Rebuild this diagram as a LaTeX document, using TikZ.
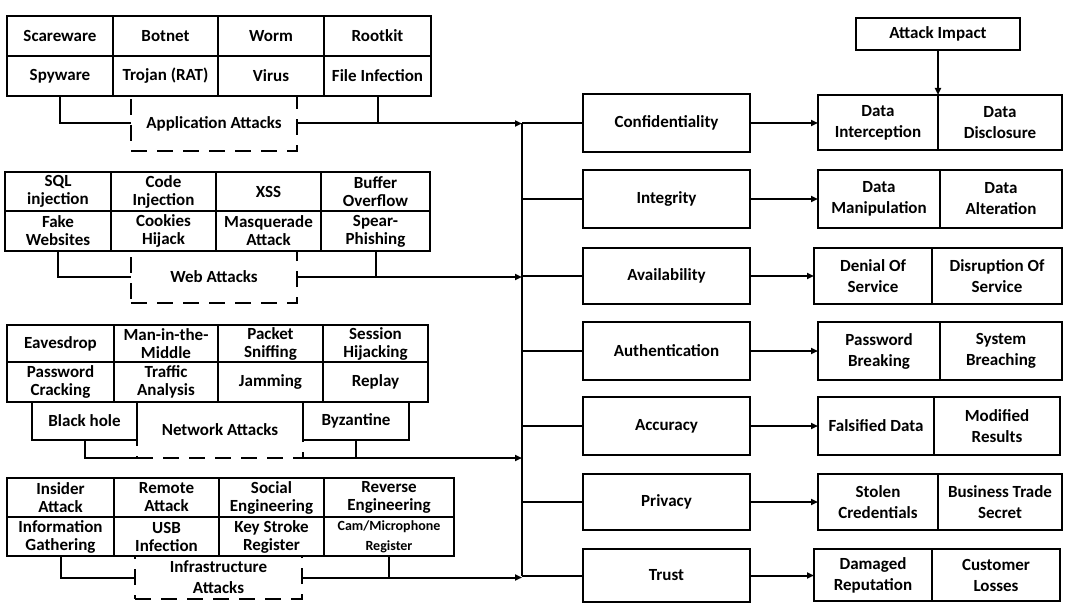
\documentclass[tikz,border=0pt]{standalone}
\usepackage{fontspec}
\setmainfont{Carlito}
\usetikzlibrary{arrows.meta}
\newcommand\boxat[7]{\node[#1, minimum width={(#5)-(#3)}, minimum height={(#6)-(#4)}] (#2) at ({((#3)+(#5))/2},{((#4)+(#6))/2}) {#7};}
\begin{document}
\begin{tikzpicture}[x=1pt,y=-1pt,
  cell/.style={draw, line width=2.2pt, fill=white, align=center, inner sep=0pt, outer sep=0pt, font=\bfseries\fontsize{17}{18}\selectfont},
  small/.style={cell, font=\bfseries\fontsize{14}{20}\selectfont},
  rbox/.style={cell, font=\bfseries\fontsize{17}{21}\selectfont},
  dbox/.style={draw, line width=2.2pt, dash pattern=on 16pt off 10pt, align=center, inner sep=0pt, outer sep=0pt, font=\bfseries\fontsize{17}{21}\selectfont},
  conn/.style={line width=2pt},
  arr/.style={conn, -{Triangle[length=7pt,width=6pt]}}]
\useasboundingbox (0,0) rectangle (1076,604);
\coordinate (busx) at (522,0);

% ---------- Application attacks ----------
\boxat{dbox}{appdash}{131}{96}{297}{151}{Application Attacks}
\boxat{cell}{a1}{7}{16}{113}{56}{Scareware}
\boxat{cell}{a2}{113}{16}{218}{56}{Botnet}
\boxat{cell}{a3}{218}{16}{324}{56}{Worm}
\boxat{cell}{a4}{324}{16}{431}{56}{Rootkit}
\boxat{cell}{a5}{7}{56}{113}{96}{Spyware}
\boxat{cell}{a6}{113}{56}{218}{96}{Trojan (RAT)}
\boxat{cell}{a7}{218}{56}{324}{96}{Virus}
\boxat{cell}{a8}{324}{56}{431}{96}{File Infection}
\draw[conn] (a5.south) |- (appdash.west);
\draw[conn] (a8.south) -- (a8.south |- appdash.east);
\draw[arr] (appdash.east) -- (appdash.east -| busx);

% ---------- Web attacks ----------
\boxat{dbox}{webdash}{131}{251}{297}{303}{Web Attacks}
\boxat{cell}{w1}{5}{172}{111}{211}{SQL\\injection}
\boxat{cell}{w2}{111}{172}{216}{211}{Code\\Injection}
\boxat{cell}{w3}{216}{172}{321}{211}{XSS}
\boxat{cell}{w4}{321}{172}{430}{211}{Buffer\\Overflow}
\boxat{cell}{w5}{5}{211}{111}{251}{Fake\\Websites}
\boxat{cell}{w6}{111}{211}{216}{251}{Cookies\\Hijack}
\boxat{cell}{w7}{216}{211}{321}{251}{Masquerade\\Attack}
\boxat{cell}{w8}{321}{211}{430}{251}{Spear-\\Phishing}
\draw[conn] (w5.south) |- (webdash.west);
\draw[conn] (w8.south) -- (w8.south |- webdash.east);
\draw[arr] (webdash.east) -- (webdash.east -| busx);

% ---------- Network attacks ----------
\boxat{dbox}{netdash}{137}{402}{303}{458}{Network Attacks}
\boxat{cell}{bh}{32}{402}{137}{440}{Black hole}
\boxat{cell}{byz}{303}{402}{409}{440}{Byzantine}
\boxat{cell}{n1}{7}{325}{114}{362}{Eavesdrop}
\boxat{cell}{n2}{114}{325}{218}{362}{Man-in-the-\\Middle}
\boxat{cell}{n3}{218}{325}{323}{362}{Packet\\Sniffing}
\boxat{cell}{n4}{323}{325}{428}{362}{Session\\Hijacking}
\boxat{cell}{n5}{7}{362}{114}{402}{Password\\Cracking}
\boxat{cell}{n6}{114}{362}{218}{402}{Traffic\\Analysis}
\boxat{cell}{n7}{218}{362}{323}{402}{Jamming}
\boxat{cell}{n8}{323}{362}{428}{402}{Replay}
\draw[conn] (bh.south) |- (netdash.south west);
\draw[conn] (byz.south) -- (byz.south |- netdash.south);
\draw[arr] (netdash.south east) -- (netdash.south east -| busx);

% ---------- Infrastructure attacks ----------
\boxat{dbox}{infdash}{135}{556}{302}{599}{Infrastructure\\Attacks}
\boxat{cell}{i1}{7}{478}{114}{517}{Insider\\Attack}
\boxat{cell}{i2}{114}{478}{219}{517}{Remote\\Attack}
\boxat{cell}{i3}{219}{478}{324}{517}{Social\\Engineering}
\boxat{cell}{i4}{324}{478}{454}{517}{Reverse\\Engineering}
\boxat{cell}{i5}{7}{517}{114}{556}{Information\\Gathering}
\boxat{cell}{i6}{114}{517}{219}{556}{USB\\Infection}
\boxat{cell}{i7}{219}{517}{324}{556}{Key Stroke\\Register}
\boxat{small}{i8}{324}{517}{454}{556}{Cam/Microphone\\Register}
\draw[conn] (i5.south) |- (infdash.west);
\draw[conn] (i8.south) -- (i8.south |- infdash.east);
\draw[arr] (infdash.east) -- (infdash.east -| busx);

% ---------- Security properties ----------
\boxat{rbox}{conf}{583}{94}{750}{152}{Confidentiality}
\boxat{rbox}{integ}{583}{170}{750}{228}{Integrity}
\boxat{rbox}{avail}{583}{248}{750}{304}{Availability}
\boxat{rbox}{auth}{583}{322}{750}{380}{Authentication}
\boxat{rbox}{accu}{583}{397}{750}{455}{Accuracy}
\boxat{rbox}{priv}{583}{474}{750}{530}{Privacy}
\boxat{rbox}{trust}{583}{549}{750}{602}{Trust}

\draw[conn] (conf.west -| busx) -- (trust.west -| busx);
\foreach \b in {conf,integ,avail,auth,accu,priv,trust}
  \draw[conn] (\b.west -| busx) -- (\b.west);

% ---------- Impacts ----------
\boxat{rbox}{impact}{856}{18}{1020}{50}{Attack Impact}
\boxat{rbox}{c1}{818}{95}{938}{150}{Data\\Interception}
\boxat{rbox}{c2}{938}{95}{1062}{150}{Data\\Disclosure}
\boxat{rbox}{g1}{818}{170}{940}{228}{Data\\Manipulation}
\boxat{rbox}{g2}{940}{170}{1062}{228}{Data\\Alteration}
\boxat{rbox}{v1}{814}{248}{932}{304}{Denial Of\\Service}
\boxat{rbox}{v2}{932}{248}{1062}{304}{Disruption Of\\Service}
\boxat{rbox}{u1}{818}{322}{940}{380}{Password\\Breaking}
\boxat{rbox}{u2}{940}{322}{1062}{380}{System\\Breaching}
\boxat{rbox}{r1}{818}{397}{934}{455}{Falsified Data}
\boxat{rbox}{r2}{934}{397}{1060}{455}{Modified\\Results}
\boxat{rbox}{p1}{818}{474}{938}{530}{Stolen\\Credentials}
\boxat{rbox}{p2}{938}{474}{1062}{530}{Business Trade\\Secret}
\boxat{rbox}{t1}{814}{549}{932}{601}{Damaged\\Reputation}
\boxat{rbox}{t2}{932}{549}{1060}{601}{Customer\\Losses}

\draw[arr] (impact.south) -- (impact.south |- c1.north);
\draw[arr] (conf.east) -- (conf.east -| c1.west);
\draw[arr] (integ.east) -- (integ.east -| g1.west);
\draw[arr] (avail.east) -- (avail.east -| v1.west);
\draw[arr] (auth.east) -- (auth.east -| u1.west);
\draw[arr] (accu.east) -- (accu.east -| r1.west);
\draw[arr] (priv.east) -- (priv.east -| p1.west);
\draw[arr] (trust.east) -- (trust.east -| t1.west);
\end{tikzpicture}
\end{document}
